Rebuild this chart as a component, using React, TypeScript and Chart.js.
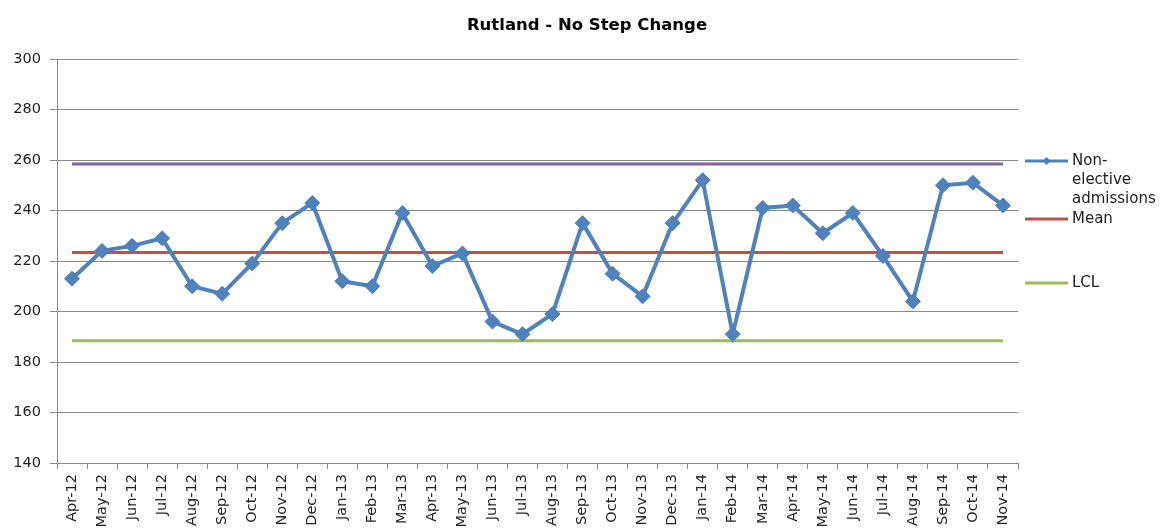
import React, { useEffect, useRef } from "react";
import { Chart, registerables } from "chart.js";

Chart.register(...registerables);

const titleText = "Rutland - No Step Change";

const categories = [
  "Apr-12", "May-12", "Jun-12", "Jul-12", "Aug-12", "Sep-12", "Oct-12", "Nov-12",
  "Dec-12", "Jan-13", "Feb-13", "Mar-13", "Apr-13", "May-13", "Jun-13", "Jul-13",
  "Aug-13", "Sep-13", "Oct-13", "Nov-13", "Dec-13", "Jan-14", "Feb-14", "Mar-14",
  "Apr-14", "May-14", "Jun-14", "Jul-14", "Aug-14", "Sep-14", "Oct-14", "Nov-14",
];

const admissions = [
  213, 224, 226, 229, 210, 207, 219, 235,
  243, 212, 210, 239, 218, 223, 196, 191,
  199, 235, 215, 206, 235, 252, 191, 241,
  242, 231, 239, 222, 204, 250, 251, 242,
];

const meanLevel = 223.4;
const uclLevel = 258.4;
const lclLevel = 188.4;

const yMin = 140;
const yMax = 300;
const yStep = 20;

const legendLabels = [["Non-", "elective", "admissions"], ["Mean"], ["LCL"]];

const BLUE = "#4F81BD";
const RED = "#C0504D";
const GREEN = "#9BBB59";
const PURPLE = "#8064A2";
const GRID = "#888888";
const TEXT = "#222222";

const overlayPlugin = {
  id: "overlay",
  afterDraw(chart: any) {
    const ctx = chart.ctx as CanvasRenderingContext2D;
    ctx.save();
    ctx.fillStyle = "#000";
    ctx.textAlign = "center";
    ctx.textBaseline = "alphabetic";
    ctx.font = 'bold 16.5px "DejaVu Sans", sans-serif';
    ctx.fillText(titleText, 587, 30);

    const x1 = 1025;
    const x2 = 1068;
    const tx = 1072;
    const items = [
      { color: BLUE, y: 161, marker: true, lines: legendLabels[0] },
      { color: RED, y: 219, marker: false, lines: legendLabels[1] },
      { color: GREEN, y: 283, marker: false, lines: legendLabels[2] },
    ];
    ctx.textAlign = "left";
    ctx.textBaseline = "middle";
    ctx.font = '15px "DejaVu Sans", sans-serif';
    for (const it of items) {
      ctx.strokeStyle = it.color;
      ctx.lineWidth = 3;
      ctx.beginPath();
      ctx.moveTo(x1, it.y);
      ctx.lineTo(x2, it.y);
      ctx.stroke();
      if (it.marker) {
        const cx = (x1 + x2) / 2;
        ctx.fillStyle = it.color;
        ctx.beginPath();
        ctx.moveTo(cx, it.y - 4);
        ctx.lineTo(cx + 4, it.y);
        ctx.lineTo(cx, it.y + 4);
        ctx.lineTo(cx - 4, it.y);
        ctx.closePath();
        ctx.fill();
      }
      ctx.fillStyle = TEXT;
      it.lines.forEach((ln, i) => {
        ctx.fillText(ln, tx, it.y + i * 19);
      });
    }
    ctx.restore();
  },
};

export default function App() {
  const canvasRef = useRef<HTMLCanvasElement | null>(null);

  useEffect(() => {
    if (!canvasRef.current) return;
    const flat = (v: number) => categories.map(() => v);
    const chart = new Chart(canvasRef.current, {
      type: "line",
      data: {
        labels: categories,
        datasets: [
          {
            label: "Non-elective admissions",
            data: admissions,
            borderColor: BLUE,
            backgroundColor: BLUE,
            borderWidth: 4,
            pointStyle: "rectRot",
            pointRadius: 7.5,
            pointBorderWidth: 1,
            pointBackgroundColor: BLUE,
            pointBorderColor: BLUE,
            tension: 0,
          },
          {
            label: "Mean",
            data: flat(meanLevel),
            borderColor: RED,
            borderWidth: 3,
            pointRadius: 0,
          },
          {
            label: "UCL",
            data: flat(uclLevel),
            borderColor: PURPLE,
            borderWidth: 3,
            pointRadius: 0,
          },
          {
            label: "LCL",
            data: flat(lclLevel),
            borderColor: GREEN,
            borderWidth: 3,
            pointRadius: 0,
          },
        ],
      },
      options: {
        animation: false,
        responsive: true,
        maintainAspectRatio: false,
        layout: { padding: { top: 59, right: 145, left: 0, bottom: 0 } },
        plugins: {
          legend: { display: false },
          title: { display: false },
          tooltip: { enabled: false },
        },
        scales: {
          x: {
            type: "category",
            offset: true,
            grid: {
              offset: true,
              drawOnChartArea: false,
              drawTicks: true,
              tickLength: 6,
              color: GRID,
            },
            border: { color: GRID, width: 1 },
            ticks: {
              autoSkip: false,
              maxRotation: 90,
              minRotation: 90,
              padding: 5,
              color: TEXT,
              font: { family: '"DejaVu Sans", sans-serif', size: 14.5 },
            },
            afterFit: (scale: any) => {
              scale.height = 66;
            },
          },
          y: {
            min: yMin,
            max: yMax,
            ticks: {
              stepSize: yStep,
              padding: 9,
              color: TEXT,
              font: { family: '"DejaVu Sans", sans-serif', size: 14.5 },
            },
            grid: {
              color: GRID,
              tickLength: 7,
              lineWidth: 1,
            },
            border: { color: GRID, width: 1 },
            afterFit: (scale: any) => {
              scale.width = 57;
            },
          },
        },
      },
      plugins: [overlayPlugin],
    });
    return () => chart.destroy();
  }, []);

  return (
    <div
      style={{
        position: "fixed",
        left: 0,
        top: 0,
        width: 1163,
        height: 529,
        background: "#fff",
      }}
    >
      <canvas ref={canvasRef} />
    </div>
  );
}
